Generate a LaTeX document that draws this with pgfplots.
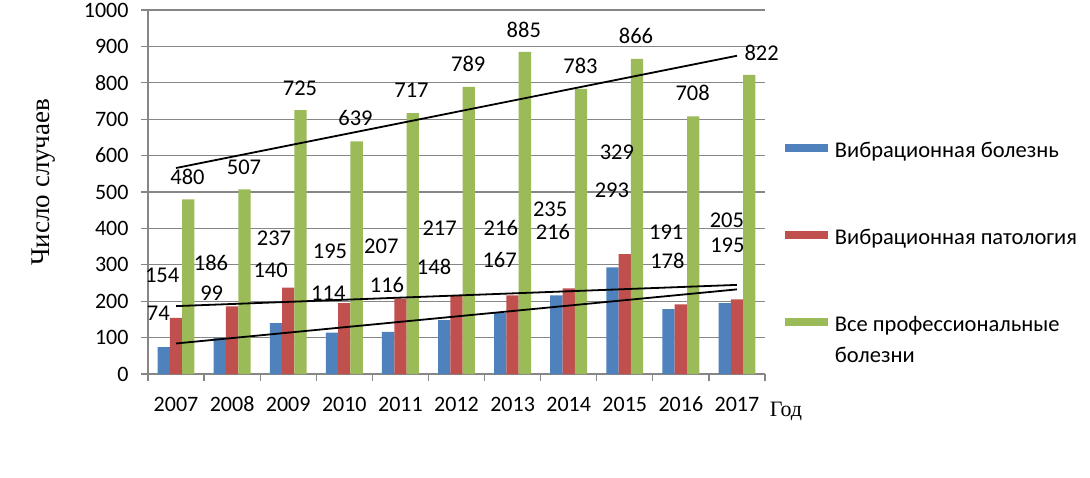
\documentclass[border=0pt]{standalone}
\usepackage{pgfplots}
\pgfplotsset{compat=1.18}
\usepackage{fontspec}
\setmainfont{Carlito}
\newfontfamily\timesf{Liberation Serif}
\definecolor{cblue}{HTML}{4F81BD}
\definecolor{cred}{HTML}{C0504D}
\definecolor{cgreen}{HTML}{9BBB59}
\definecolor{cgrid}{HTML}{868686}
\begin{document}
\begin{tikzpicture}
\useasboundingbox (0,0) rectangle (1090pt,477pt);
\begin{axis}[
  at={(148pt,103pt)}, anchor=south west,
  scale only axis, width=617pt, height=364pt,
  xmin=-0.5, xmax=10.5, ymin=0, ymax=1000,
  clip=false,
  axis lines*=left,
  axis line style={cgrid, line width=1.2pt},
  xtick={0,...,10},
  xticklabels={2007,2008,2009,2010,2011,2012,2013,2014,2015,2016,2017},
  minor xtick={-0.5,0.5,...,10.5},
  ytick={0,100,...,1000},
  major x tick style={draw=none},
  tick align=outside,
  major tick length=7pt, minor tick length=7pt,
  tick style={cgrid, line width=1.2pt},
  ymajorgrids, grid style={cgrid, line width=1.2pt},
  /pgf/number format/assume math mode=true,
  /pgf/number format/1000 sep={},
  tick label style={font=\fontsize{22}{26}\selectfont, text=black},
  xticklabel style={anchor=base, yshift=-30pt},
  yticklabel style={anchor=east, xshift=-9pt},
  ylabel={Число случаев},
  every axis y label/.style={at={(axis description cs:-0.17,0.527)}, rotate=90, anchor=center, font=\timesf\fontsize{27}{30}\selectfont},
  xlabel={Год},
  every axis x label/.style={at={(axis description cs:1.034,-0.104)}, anchor=center, font=\timesf\fontsize{22}{26}\selectfont},
  legend style={at={(1.032,0.636)}, anchor=north west, draw=none, fill=none, inner sep=0pt,
    row sep=67pt, column sep=7pt, font=\fontsize{22.5}{31}\selectfont,
    nodes={inner sep=0pt, text height=15pt, text depth=5pt}},
  legend cell align=left,
]
\addplot[ybar, bar width=12.3pt, bar shift=-12.3pt, fill=cblue, draw=none,
  legend image code/.code={\fill[cblue] (0pt,0.5pt) rectangle (43pt,8.5pt);}]
  coordinates {(0,74) (1,99) (2,140) (3,114) (4,116) (5,148) (6,167) (7,216) (8,293) (9,178) (10,195)};
\addlegendentry{Вибрационная болезнь}
\addplot[ybar, bar width=12.3pt, bar shift=0pt, fill=cred, draw=none,
  legend image code/.code={\fill[cred] (0pt,0.5pt) rectangle (43pt,8.5pt);}]
  coordinates {(0,154) (1,186) (2,237) (3,195) (4,207) (5,217) (6,216) (7,235) (8,329) (9,191) (10,205)};
\addlegendentry{Вибрационная патология}
\addplot[ybar, bar width=12.3pt, bar shift=12.3pt, fill=cgreen, draw=none,
  legend image code/.code={\fill[cgreen] (0pt,0.5pt) rectangle (43pt,8.5pt);}]
  coordinates {(0,480) (1,507) (2,725) (3,639) (4,717) (5,789) (6,885) (7,783) (8,866) (9,708) (10,822)};
\addlegendentry{\begin{tabular}[t]{@{}l@{}}Все профессиональные\\болезни\end{tabular}}
% linear trend lines (least squares fits)
\addplot[black, line width=1.8pt, forget plot] coordinates {(0,83.9) (10,232.5)};
\addplot[black, line width=1.8pt, forget plot] coordinates {(0,186.5) (10,244.8)};
\addplot[black, line width=1.8pt, forget plot] coordinates {(0,565.9) (10,874.3)};
% data labels
\addplot[draw=none, mark=none, forget plot, nodes near coords, point meta=explicit symbolic,
  every node near coord/.append style={anchor=center, inner sep=0pt, font=\fontsize{22.5}{26}\selectfont, text=black}]
  coordinates {(0.204,542)[480] (1.211,569)[507] (2.21,786)[725] (3.20,702)[639] (4.198,780)[717]
    (5.21,851)[789] (6.20,945)[885] (7.21,846)[783] (8.20,928)[866] (9.21,771)[708] (10.44,883)[822]};
\addplot[draw=none, mark=none, forget plot, nodes near coords, point meta=explicit symbolic,
  every node near coord/.append style={anchor=center, inner sep=0pt, font=\fontsize{22.5}{26}\selectfont, text=black}]
  coordinates {(-0.247,272)[154] (0.623,304)[186] (1.746,373)[237] (2.745,336)[195] (3.66,352)[207]
    (4.70,400)[217] (5.79,402)[216] (6.67,453)[235] (7.86,609)[329] (8.74,389)[191] (9.82,423)[205]};
\addplot[draw=none, mark=none, forget plot, nodes near coords, point meta=explicit symbolic,
  every node near coord/.append style={anchor=center, inner sep=0pt, font=\fontsize{22.5}{26}\selectfont, text=black}]
  coordinates {(-0.316,167)[74] (0.636,222)[99] (1.687,284)[140] (2.715,222)[114] (3.76,244)[116]
    (4.60,295)[148] (5.77,313)[167] (6.72,389)[216] (7.77,504)[293] (8.76,310)[178] (9.83,354)[195]};
\end{axis}
\end{tikzpicture}
\end{document}
